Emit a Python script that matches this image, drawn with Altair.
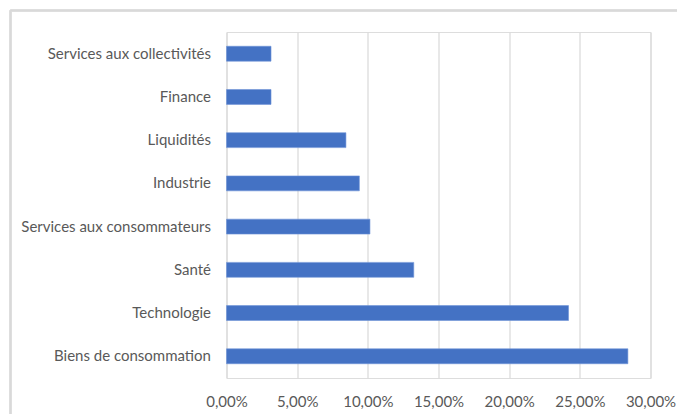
import altair as alt
import pandas as pd

categories = [
    "Services aux collectivités",
    "Finance",
    "Liquidités",
    "Industrie",
    "Services aux consommateurs",
    "Santé",
    "Technologie",
    "Biens de consommation",
]
values = [3.15, 3.15, 8.45, 9.4, 10.15, 13.25, 24.2, 28.4]
x_ticks = [0, 5, 10, 15, 20, 25, 30]

df = pd.DataFrame({"cat": categories, "val": values})

FONT = "Lato"
GREY = "#595959"
FS = 15

bars = alt.Chart(df).mark_bar(color="#4472C4", stroke="#6f93d6", strokeWidth=0.6).encode(
    y=alt.Y(
        "cat:N",
        sort=categories,
        title=None,
        scale=alt.Scale(paddingInner=0.655, paddingOuter=0.33),
        axis=alt.Axis(
            ticks=False, domain=False, grid=False, labelPadding=16,
            labelFont=FONT, labelFontSize=FS, labelColor=GREY, labelLimit=300,
        ),
    ),
    x=alt.X(
        "val:Q",
        title=None,
        scale=alt.Scale(domain=[0, 30], nice=False),
        axis=alt.Axis(
            values=x_ticks, ticks=False, domain=False, grid=True,
            gridColor="#d9d9d9", gridWidth=1.2,
            labelExpr="format(datum.value, 'd') + ',00%'",
            labelOverlap=False, labelFlush=False,
            labelPadding=16, labelFont=FONT, labelFontSize=FS, labelColor=GREY,
        ),
    ),
)

frame_top = alt.Chart(df).mark_rule(color="#d9d9d9", strokeWidth=1.5).encode(
    x=alt.value(-216), x2=alt.value(470), y=alt.value(-21.5)
)
frame_left = alt.Chart(df).mark_rule(color="#d9d9d9", strokeWidth=1.5).encode(
    x=alt.value(-216), y=alt.value(-21.5), y2=alt.value(400)
)

chart = (
    alt.layer(frame_top, frame_left, bars)
    .properties(
        width=424,
        height=346,
        autosize=alt.AutoSizeParams(type="none"),
        padding={"left": 218.5, "top": 24, "right": 26, "bottom": 36},
    )
    .configure_view(stroke=None)
    .configure(background="white")
)

chart.save("out.html", embed_options={"renderer": "svg", "actions": False})
